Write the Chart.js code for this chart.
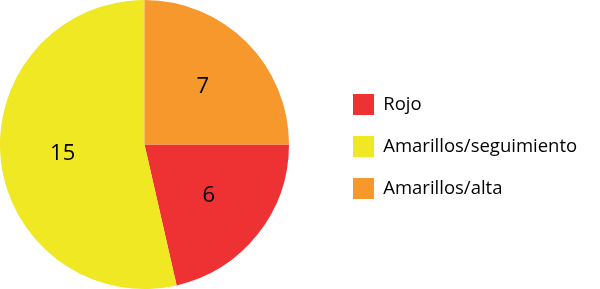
<!DOCTYPE html>
<html>
<head>
<meta charset="utf-8">
<script src="https://cdn.jsdelivr.net/npm/chart.js@4/dist/chart.umd.min.js"></script>
<style>
    html, body { margin: 0; padding: 0; background: #ffffff; }
    #wrap { width: 600px; height: 289px; }
</style>
</head>
<body>
<div id="wrap"><canvas id="myChart"></canvas></div>
<script>
const labels = ['Rojo', 'Amarillos/seguimiento', 'Amarillos/alta'];
const values = [6, 15, 7];
const colors = ['#EE3233', '#EFE823', '#F7982D'];

const fontFamily = '"Open Sans", sans-serif';

// numbers inside the slices
const sliceLabels = {
    id: 'sliceLabels',
    afterDatasetsDraw(chart) {
        const ctx = chart.ctx;
        const meta = chart.getDatasetMeta(0);
        ctx.save();
        ctx.font = '22px ' + fontFamily;
        ctx.fillStyle = '#000000';
        ctx.textAlign = 'center';
        ctx.textBaseline = 'middle';
        meta.data.forEach((arc, i) => {
            const p = arc.getProps(['x', 'y', 'startAngle', 'endAngle', 'outerRadius'], true);
            const mid = (p.startAngle + p.endAngle) / 2;
            const r = p.outerRadius * 0.57;
            ctx.fillText(String(values[i]), p.x + Math.cos(mid) * r, p.y + Math.sin(mid) * r);
        });
        ctx.restore();
    }
};

// legend sits further right than chart.js puts it
const legendGap = {
    id: 'legendGap',
    afterInit(chart) {
        const legend = chart.legend;
        const fit = legend.fit;
        legend.fit = function () {
            fit.bind(legend)();
            this.width = chart.width - 289;
        };
        const draw = legend.draw;
        legend.draw = function () {
            const ctx = chart.ctx;
            ctx.save();
            ctx.translate(43, 2);
            draw.bind(legend)();
            ctx.restore();
        };
    }
};

const ctx = document.getElementById('myChart');
new Chart(ctx, {
    type: 'pie',
    data: {
        labels: labels,
        datasets: [{
            data: values,
            backgroundColor: colors,
            borderWidth: 0,
            hoverOffset: 0
        }]
    },
    options: {
        responsive: true,
        maintainAspectRatio: false,
        animation: false,
        rotation: 90,
        layout: { padding: 0 },
        plugins: {
            legend: {
                position: 'right',
                labels: {
                    boxWidth: 21,
                    boxHeight: 21,
                    padding: 21,
                    color: '#000000',
                    font: { family: fontFamily, size: 18.5 }
                }
            },
            tooltip: { enabled: false }
        }
    },
    plugins: [sliceLabels, legendGap]
});
</script>
</body>
</html>
